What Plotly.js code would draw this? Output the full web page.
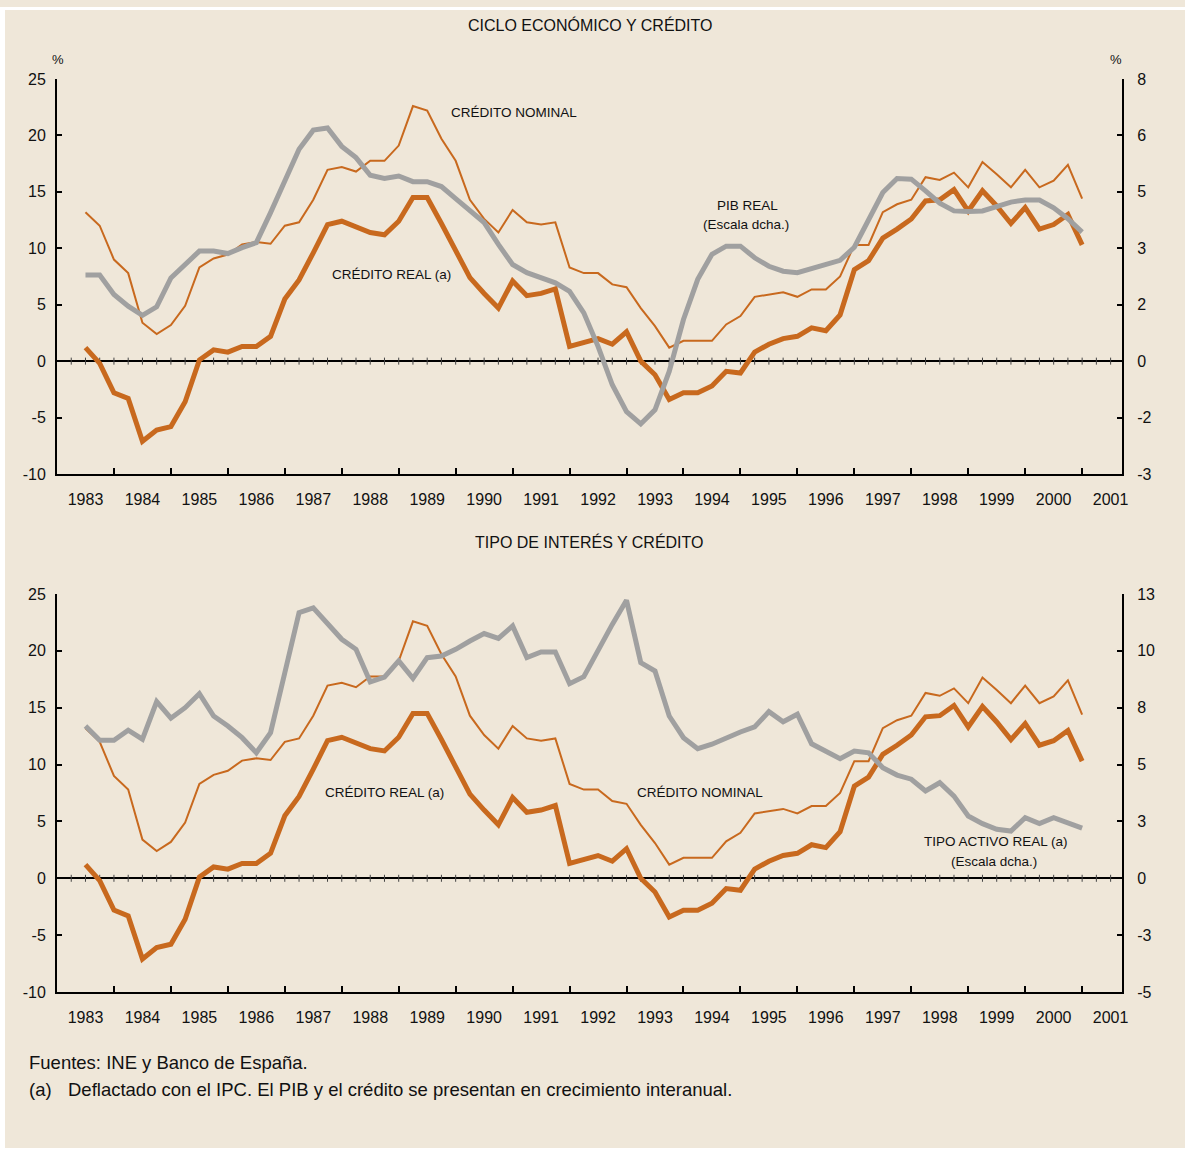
<!DOCTYPE html>
<html>
<head>
<meta charset="utf-8">
<script src="https://cdn.plot.ly/plotly-3.0.1.min.js"></script>
<style>html,body{margin:0;padding:0;background:#ffffff;}</style>
</head>
<body>
<div id="chart" style="width:1185px;height:1151px;"></div>
<script>
// ---- Data (quarterly) ----
const firstQuarter = 1983.5;   // position of the first plotted quarter on the year axis
const quarterStep = 0.25;

const yearLabels = ['1983','1984','1985','1986','1987','1988','1989','1990','1991','1992',
                    '1993','1994','1995','1996','1997','1998','1999','2000','2001'];

// Crédito real (a), % interanual (left scale)
const creditoReal = [1.2,-0.2,-2.8,-3.3,-7.1,-6.1,-5.8,-3.6,0.1,1.0,
                     0.8,1.3,1.3,2.2,5.5,7.2,9.6,12.1,12.4,11.9,
                     11.4,11.2,12.4,14.5,14.5,12.2,9.9,7.4,6.0,4.7,
                     7.1,5.8,6.0,6.4,1.3,1.6,2.0,1.5,2.6,0.0,
                     -1.2,-3.4,-2.8,-2.8,-2.2,-0.9,-1.05,0.8,1.5,2.0,
                     2.2,2.95,2.7,4.1,8.1,8.9,10.9,11.7,12.6,14.2,
                     14.3,15.2,13.3,15.1,13.75,12.2,13.6,11.7,12.1,13.0,
                     10.3];

// Crédito nominal, % interanual (left scale)
const creditoNominal = [13.2,12.0,9.0,7.8,3.4,2.4,3.2,4.9,8.3,9.1,
                        9.45,10.35,10.55,10.4,12.0,12.3,14.3,16.95,17.2,16.8,
                        17.75,17.75,19.1,22.6,22.2,19.7,17.75,14.3,12.6,11.4,
                        13.4,12.3,12.1,12.3,8.3,7.8,7.8,6.8,6.55,4.7,
                        3.1,1.2,1.8,1.8,1.8,3.25,4.0,5.7,5.9,6.1,
                        5.7,6.35,6.35,7.5,10.3,10.3,13.2,13.9,14.3,16.3,
                        16.05,16.7,15.4,17.65,16.55,15.4,16.95,15.4,16.0,17.4,
                        14.4];

// PIB real, % interanual (right scale, top panel)
const pibReal = [2.44,2.44,1.89,1.56,1.30,1.54,2.36,2.74,3.12,3.12,
                 3.05,3.22,3.36,4.21,5.11,6.01,6.55,6.61,6.09,5.77,
                 5.27,5.18,5.25,5.09,5.09,4.95,4.61,4.26,3.93,3.31,
                 2.74,2.51,2.36,2.22,1.98,1.37,0.42,-0.67,-1.43,-1.78,
                 -1.38,-0.29,1.18,2.32,3.03,3.26,3.26,2.93,2.69,2.55,
                 2.51,2.62,2.74,2.86,3.23,3.97,4.78,5.18,5.16,4.83,
                 4.48,4.26,4.24,4.26,4.40,4.51,4.57,4.57,4.35,4.04,
                 3.66];

// Tipo activo real (a) (right scale, bottom panel)
const tipoActivoReal = [6.96,6.31,6.31,6.77,6.36,8.08,7.32,7.80,8.44,7.42,
                        6.96,6.43,5.74,6.66,9.4,12.15,12.37,11.64,10.93,10.47,
                        8.98,9.20,9.94,9.14,10.09,10.16,10.47,10.85,11.19,10.97,
                        11.54,10.09,10.35,10.35,8.90,9.22,10.47,11.61,12.71,9.86,
                        9.48,7.42,6.43,5.93,6.13,6.43,6.69,6.92,7.62,7.16,
                        7.50,6.15,5.78,5.47,5.82,5.74,5.06,4.72,4.53,3.99,
                        4.37,3.76,2.85,2.50,2.24,2.16,2.77,2.50,2.77,2.51,
                        2.29];

// Axis ticks
const leftTickVals = [-10,-5,0,5,10,15,20,25];
const leftTickText = ['-10','-5','0','5','10','15','20','25'];
const topRightScale = 0.32;
const topRightTickText = ['-3','-2','0','2','3','5','6','8'];
const botRightScale = 0.52;
const botRightTickText = ['-5','-3','0','3','5','8','10','13'];

// ---- Derived positions ----
const xq = creditoReal.map((_, i) => firstQuarter + i * quarterStep);
const firstYear = Number(yearLabels[0]);
const yearCenters = yearLabels.map(y => Number(y) + 0.5);
const yearBounds = yearLabels.slice(1).map(y => Number(y));
const zeroTicksX = [];
for (let k = 1; k <= 74; k++) zeroTicksX.push(firstYear + k * 0.25);
const zeroTicksY = zeroTicksX.map(() => 0);

// ---- Style ----
const W = 1185, H = 1151;
const px = v => v / W;
const py = v => 1 - v / H;
const ORANGE = '#C8691E';
const GREY = '#A0A0A0';
const BEIGE = '#EFE7D9';
const FONT = 'Liberation Sans, Arial, sans-serif';

function line(x, y, xa, ya, color, width) {
  return {x: x, y: y, xaxis: xa, yaxis: ya, type: 'scatter', mode: 'lines',
          line: {color: color, width: width}, hoverinfo: 'skip'};
}
function zeroTicks(xa, ya) {
  return {x: zeroTicksX, y: zeroTicksY, xaxis: xa, yaxis: ya, type: 'scatter', mode: 'markers',
          marker: {symbol: 'line-ns', size: 5, line: {width: 1, color: '#444'}}, hoverinfo: 'skip'};
}

const traces = [
  zeroTicks('x', 'y'),
  line(xq, creditoNominal, 'x', 'y', ORANGE, 2),
  line(xq, creditoReal, 'x', 'y', ORANGE, 5),
  line(xq, pibReal, 'x', 'y2', GREY, 5),
  zeroTicks('x2', 'y3'),
  line(xq, tipoActivoReal, 'x2', 'y4', GREY, 5),
  line(xq, creditoNominal, 'x2', 'y3', ORANGE, 2),
  line(xq, creditoReal, 'x2', 'y3', ORANGE, 5)
];

const xDomain = [px(57), px(1122)];
const topDomain = [py(474), py(79)];
const botDomain = [py(992), py(594)];

function xAxis(anchor) {
  return {
    domain: xDomain, anchor: anchor, range: [firstYear, 2001.7],
    tickmode: 'array', tickvals: yearCenters, ticktext: yearLabels,
    ticks: '', showgrid: false, zeroline: false,
    showline: true, linecolor: '#000', linewidth: 2,
    tickfont: {family: FONT, size: 16, color: '#111'},
    ticklabelstandoff: 10,
    minor: {tickmode: 'array', tickvals: yearBounds, ticks: 'inside', ticklen: 6,
            tickwidth: 2, tickcolor: '#000', showgrid: false},
    fixedrange: true
  };
}
function yLeft(domain, anchor) {
  return {
    domain: domain, anchor: anchor, range: [-10, 25],
    tickmode: 'array', tickvals: leftTickVals, ticktext: leftTickText,
    ticks: 'inside', ticklen: 5, tickwidth: 2, tickcolor: '#000',
    showline: true, linecolor: '#000', linewidth: 2, showgrid: false,
    zeroline: true, zerolinecolor: '#000', zerolinewidth: 2,
    tickfont: {family: FONT, size: 16, color: '#111'},
    ticklabelstandoff: 6, fixedrange: true
  };
}
function yRight(overlay, anchor, scale, text) {
  return {
    overlaying: overlay, anchor: anchor, side: 'right',
    range: [leftTickVals[0] * scale, leftTickVals[leftTickVals.length - 1] * scale],
    tickmode: 'array', tickvals: leftTickVals.map(v => v * scale), ticktext: text,
    ticks: 'inside', ticklen: 5, tickwidth: 2, tickcolor: '#000',
    showline: true, linecolor: '#000', linewidth: 2, showgrid: false, zeroline: false,
    tickfont: {family: FONT, size: 16, color: '#111'},
    ticklabelstandoff: 10, fixedrange: true
  };
}

function note(text, x, y, size, anchor) {
  return {text: text, xref: 'paper', yref: 'paper', x: px(x), y: py(y),
          xanchor: anchor || 'center', yanchor: 'middle', showarrow: false,
          font: {family: FONT, size: size, color: '#111'}};
}

const layout = {
  width: W, height: H,
  margin: {l: 0, r: 0, t: 0, b: 0},
  paper_bgcolor: '#ffffff', plot_bgcolor: 'rgba(0,0,0,0)',
  showlegend: false, hovermode: false,
  font: {family: FONT, color: '#111'},
  xaxis: xAxis('y'),
  yaxis: yLeft(topDomain, 'x'),
  yaxis2: yRight('y', 'x', topRightScale, topRightTickText),
  xaxis2: xAxis('y3'),
  yaxis3: yLeft(botDomain, 'x2'),
  yaxis4: yRight('y3', 'x2', botRightScale, botRightTickText),
  shapes: [
    {type: 'rect', xref: 'paper', yref: 'paper', x0: 0, x1: 1, y0: py(7), y1: 1,
     fillcolor: BEIGE, line: {width: 0}, layer: 'below'},
    {type: 'rect', xref: 'paper', yref: 'paper', x0: px(5), x1: 1, y0: py(1148), y1: py(10),
     fillcolor: BEIGE, line: {width: 0}, layer: 'below'}
  ],
  annotations: [
    note('CICLO ECONÓMICO Y CRÉDITO', 589.5, 25, 16),
    note('TIPO DE INTERÉS Y CRÉDITO', 589.5, 542, 16),
    note('%', 58, 60, 13),
    note('%', 1116, 60, 13),
    note('CRÉDITO NOMINAL', 514, 112, 13.5),
    note('PIB REAL', 747, 205, 13.5),
    note('(Escala dcha.)', 746, 224, 13.5),
    note('CRÉDITO REAL (a)', 391, 274, 13.5),
    note('CRÉDITO REAL (a)', 385, 792, 13.5),
    note('CRÉDITO NOMINAL', 700, 792, 13.5),
    note('TIPO ACTIVO REAL (a)', 996, 842, 13.5),
    note('(Escala dcha.)', 994, 861, 13.5),
    note('Fuentes: INE y Banco de España.', 27, 1062, 18.5, 'left'),
    note('(a)', 27, 1089, 18.5, 'left'),
    note('Deflactado con el IPC. El PIB y el crédito se presentan en crecimiento interanual.', 66, 1089, 18.5, 'left')
  ]
};

Plotly.newPlot('chart', traces, layout, {displayModeBar: false, staticPlot: true});
</script>
</body>
</html>
